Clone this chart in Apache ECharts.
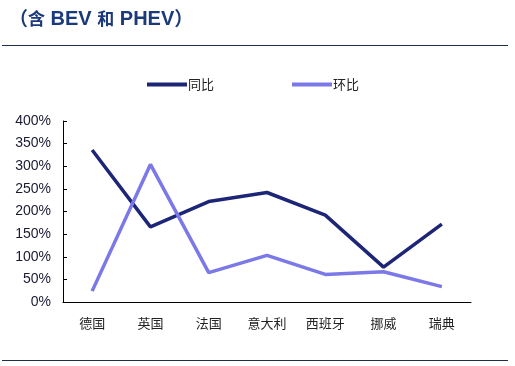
<!DOCTYPE html>
<html><head><meta charset="utf-8">
<script src="https://cdn.jsdelivr.net/npm/echarts@6/dist/echarts.min.js"></script>
<style>html,body{margin:0;padding:0;background:#fff}#c{width:515px;height:366px}</style>
</head><body><div id="c"></div>
<script>
const categories = ['德国','英国','法国','意大利','西班牙','挪威','瑞典'];
const yoy = [336, 166, 222, 242, 192, 77, 172];
const mom = [24, 304, 65, 103, 61, 67, 34];
const seriesNames = ['同比','环比'];

const chart = echarts.init(document.getElementById('c'));
chart.setOption({
  animation: false,
  backgroundColor: '#fff',
  title: {
    text: '{p|（}{c|含}{b| BEV }{c|和}{b| PHEV}{p|）}',
    left: 4, top: 4,
    textStyle: {
      rich: {
        p: {fontSize: 19, color: '#1b3a7a', fontFamily: 'Noto Sans CJK SC', fontWeight: 'bold'},
        c: {fontSize: 17, color: '#1b3a7a', fontFamily: 'Noto Sans CJK SC'},
        b: {fontSize: 20, color: '#1b3a7a', fontFamily: 'Liberation Sans', fontWeight: 'bold'}
      }
    }
  },
  graphic: [
    {type: 'line', shape: {x1: 2, y1: 45.5, x2: 508, y2: 45.5}, style: {stroke: '#1f2d4f', lineWidth: 1}},
    {type: 'line', shape: {x1: 2, y1: 360.5, x2: 508, y2: 360.5}, style: {stroke: '#1f2d4f', lineWidth: 1}}
  ],
  legend: {
    top: 73, left: 142,
    itemGap: 78,
    itemWidth: 40, itemHeight: 4,
    icon: 'rect',
    textStyle: {fontSize: 13, color: '#222', fontFamily: 'Noto Sans CJK SC', padding: [0,0,0,-4]},
    data: seriesNames
  },
  grid: {left: 63, right: 44, top: 121, bottom: 64},
  xAxis: {
    type: 'category',
    data: categories,
    boundaryGap: true,
    axisLine: {lineStyle: {color: '#000', width: 1}},
    axisTick: {inside: true, length: 5, lineStyle: {color: '#000'}},
    axisLabel: {fontSize: 13, color: '#222', fontFamily: 'Noto Sans CJK SC', margin: 15}
  },
  yAxis: {
    type: 'value',
    min: 0, max: 400, interval: 50,
    axisLine: {show: true, lineStyle: {color: '#000', width: 1}},
    axisTick: {show: true, inside: true, length: 4, lineStyle: {color: '#000'}},
    splitLine: {show: false},
    axisLabel: {fontSize: 14, color: '#1a1a33', fontFamily: 'Liberation Sans', formatter: '{value}%', margin: 12}
  },
  series: [
    {name: seriesNames[0], type: 'line', data: yoy, symbol: 'none', color: '#1c2576',
     lineStyle: {width: 3.5, color: '#1c2576'}},
    {name: seriesNames[1], type: 'line', data: mom, symbol: 'none', color: '#7b78e8',
     lineStyle: {width: 3.5, color: '#7b78e8'}}
  ]
});
</script></body></html>
